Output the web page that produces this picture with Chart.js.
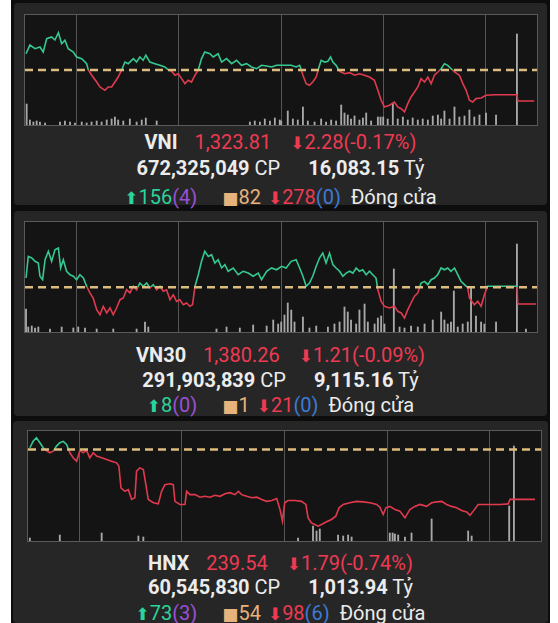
<!DOCTYPE html>
<html>
<head>
<meta charset="utf-8">
<script src="https://cdn.jsdelivr.net/npm/chart.js@4.4.1/dist/chart.umd.min.js"></script>
<style>
  html, body { margin: 0; padding: 0; background: #fff; }
  body { width: 558px; height: 623px; position: relative; overflow: hidden; font-family: Roboto, "Noto Sans", sans-serif; }
  #frame { position: absolute; left: 11px; top: 0; width: 539px; height: 623px; background: #0d0d0d; }
  .card { position: absolute; background: #262626; border-radius: 4px; }
  .plot { position: absolute; border: 1px solid #5a5a5a; background: #141414; }
  .plot canvas { display: block; }
  .row { position: absolute; left: 14px; width: 533px; text-align: center; font-size: 20px; line-height: 22px; white-space: nowrap; color: #ececec; }
  .b { font-weight: bold; }
  .r { color: #ee3a52; }
  .g { color: #2bd49a; }
  .p { color: #9b4fd8; }
  .bl { color: #3d7ad6; }
  .o { color: #e8b27c; }
  .ar { font-family: "DejaVu Sans"; font-size: 17px; }
  .sq { font-family: "DejaVu Sans"; font-size: 17px; }
</style>
</head>
<body>
<div id="frame"></div>
<div class="card" style="left:14px;top:3px;width:533px;height:202px"></div>
<div class="card" style="left:14px;top:211px;width:533px;height:205px"></div>
<div class="card" style="left:13px;top:421px;width:535px;height:202px"></div>

<div class="plot" style="left:24px;top:14px"><canvas id="vni" width="512" height="110"></canvas></div>
<div class="plot" style="left:24px;top:221px"><canvas id="vn30" width="512" height="110"></canvas></div>
<div class="plot" style="left:27px;top:430px"><canvas id="hnx" width="513" height="110"></canvas></div>

<div class="row" style="top:131px"><span class="b">VNI</span><span class="r" style="margin-left:17px">1,323.81</span><span class="r" style="margin-left:19px"><span class="ar">⬇</span>2.28(-0.17%)</span></div>
<div class="row" style="top:157px"><span class="b">672,325,049</span> CP<span class="b" style="margin-left:28px">16,083.15</span> Tỷ</div>
<div class="row" style="top:186px"><span class="g"><span class="ar">⬆</span>156</span><span class="p">(4)</span><span class="o sq" style="margin-left:25px">■</span><span class="o">82</span><span class="r" style="margin-left:7px"><span class="ar">⬇</span>278</span><span class="bl">(0)</span><span style="margin-left:10px">Đóng cửa</span></div>

<div class="row" style="top:344px"><span class="b">VN30</span><span class="r" style="margin-left:17px">1,380.26</span><span class="r" style="margin-left:19px"><span class="ar">⬇</span>1.21(-0.09%)</span></div>
<div class="row" style="top:369px"><span class="b">291,903,839</span> CP<span class="b" style="margin-left:28px">9,115.16</span> Tỷ</div>
<div class="row" style="top:394px"><span class="g"><span class="ar">⬆</span>8</span><span class="p">(0)</span><span class="o sq" style="margin-left:25px">■</span><span class="o">1</span><span class="r" style="margin-left:7px"><span class="ar">⬇</span>21</span><span class="bl">(0)</span><span style="margin-left:10px">Đóng cửa</span></div>

<div class="row" style="top:552px"><span class="b">HNX</span><span class="r" style="margin-left:17px">239.54</span><span class="r" style="margin-left:19px"><span class="ar">⬇</span>1.79(-0.74%)</span></div>
<div class="row" style="top:576px"><span class="b">60,545,830</span> CP<span class="b" style="margin-left:28px">1,013.94</span> Tỷ</div>
<div class="row" style="top:602px"><span class="g"><span class="ar">⬆</span>73</span><span class="p">(3)</span><span class="o sq" style="margin-left:25px">■</span><span class="o">54</span><span class="r" style="margin-left:7px"><span class="ar">⬇</span>98</span><span class="bl">(6)</span><span style="margin-left:10px">Đóng cửa</span></div>

<script>
// session time runs 0..250 (five equal blocks between grid lines)
const sessionStart = 0, sessionEnd = 250, gridStep = 50;

// VNI
const vniRef = 1326.09;
const vniRange = [1322.04, 1330.13];
const vniTime = [0.5, 2.4, 4.9, 7.3, 8.9, 10.6, 13.0, 14.6, 16.3, 17.9, 19.5, 21.1, 23.6, 25.2, 27.7, 30.1, 30.9, 32.5, 35.0, 36.6,
  39.0, 40.6, 42.3, 43.9, 45.5, 47.2, 48.8, 50.4, 52.9, 54.5, 56.1, 57.7, 59.0, 61.0, 63.4, 65.9, 68.3, 69.9, 71.6, 73.2,
  74.8, 76.5, 78.1, 79.7, 81.3, 83.0, 84.6, 86.2, 87.8, 90.3, 91.9, 94.3, 96.0, 98.4, 100.9, 103.3, 105.7, 108.2, 110.6, 113.1,
  115.5, 118.0, 120.4, 122.8, 126.7, 130.0, 132.4, 134.1, 135.7, 137.3, 138.9, 140.5, 142.2, 143.3, 144.6, 146.3, 147.9, 149.2, 150.3, 151.9,
  153.6, 156.0, 158.5, 160.9, 163.3, 165.8, 168.2, 170.6, 172.3, 173.9, 175.5, 178.0, 180.4, 182.0, 183.7, 185.3, 186.9, 188.5, 190.2, 191.8,
  193.4, 195.1, 196.7, 198.3, 199.9, 201.6, 203.2, 204.8, 206.4, 208.1, 209.7, 212.1, 213.8, 215.4, 217.0, 218.6, 220.2, 222.7, 225.1, 229.2,
  240.2, 240.6, 248.7];
const vniPrice = [1327.28, 1327.92, 1327.65, 1327.78, 1327.41, 1328.39, 1328.51, 1328.29, 1328.83, 1328.02, 1328.27, 1327.65, 1327.41, 1327.04, 1326.92, 1326.55, 1326.09, 1325.72, 1325.20, 1324.84,
  1324.59, 1324.84, 1324.84, 1325.20, 1325.57, 1326.09, 1326.67, 1326.55, 1326.92, 1326.67, 1327.04, 1326.80, 1327.17, 1326.67, 1326.55, 1326.43, 1326.31, 1326.09, 1325.99, 1325.70,
  1325.81, 1325.45, 1325.08, 1325.33, 1325.20, 1325.70, 1326.09, 1326.92, 1327.41, 1327.28, 1327.04, 1327.28, 1326.67, 1326.92, 1326.55, 1326.80, 1326.43, 1326.55, 1326.31, 1326.18,
  1326.43, 1326.38, 1326.31, 1326.43, 1326.43, 1326.43, 1326.31, 1326.43, 1325.70, 1325.08, 1324.96, 1325.20, 1325.57, 1326.18, 1326.80, 1326.67, 1326.73, 1327.04, 1326.67, 1326.43,
  1325.99, 1325.81, 1325.89, 1325.70, 1325.81, 1325.70, 1325.57, 1325.33, 1324.59, 1323.86, 1323.37, 1323.49, 1323.73, 1323.37, 1323.24, 1323.00, 1323.61, 1324.10, 1324.47, 1324.84,
  1325.45, 1325.20, 1325.57, 1325.08, 1325.70, 1325.94, 1326.18, 1326.55, 1326.43, 1326.18, 1325.94, 1325.70, 1325.08, 1324.59, 1323.86, 1323.73, 1323.98, 1324.03, 1324.23, 1324.27,
  1324.27, 1323.81, 1323.81];
const vniVolTime = [0.8, 2.4, 4.1, 5.7, 7.3, 9.8, 17.1, 19.5, 22.0, 24.4, 27.7, 30.1, 32.5, 35.0, 37.4, 39.9, 42.3, 43.9, 45.5, 48.0,
  51.2, 54.5, 57.0, 59.0, 64.3, 109.8, 112.2, 114.7, 117.1, 119.6, 122.0, 124.4, 125.1, 128.3, 130.8, 133.2, 135.7, 138.1, 141.4, 144.6,
  147.0, 149.5, 151.9, 154.4, 156.0, 157.6, 159.2, 160.9, 163.3, 165.0, 166.6, 169.0, 172.3, 173.6, 174.9, 177.1, 179.6, 182.0, 184.5, 186.9,
  189.3, 191.8, 194.2, 196.7, 199.1, 201.6, 203.2, 204.8, 207.3, 209.7, 212.1, 214.6, 217.0, 219.4, 221.9, 225.1, 230.0, 240.2];
const vniVol = [105, 25, 15, 20, 15, 10, 15, 20, 15, 10, 15, 10, 15, 20, 15, 25, 30, 40, 25, 20,
  30, 15, 25, 35, 20, 15, 20, 15, 30, 20, 35, 25, 20, 70, 30, 25, 90, 20, 15, 30,
  15, 25, 20, 100, 60, 50, 30, 45, 25, 35, 60, 20, 40, 40, 40, 30, 110, 30, 40, 25,
  35, 25, 30, 25, 45, 50, 30, 70, 30, 90, 40, 45, 75, 40, 50, 60, 50, 455];

// VN30
const vn30Ref = 1381.47;
const vn30Range = [1378.23, 1386.20];
const vn30Time = [0.5, 1.6, 3.3, 4.9, 6.5, 7.3, 8.6, 9.8, 11.4, 13.0, 14.6, 16.3, 17.4, 18.7, 20.3, 22.0, 23.6, 25.2, 26.8, 28.5,
  30.1, 31.7, 33.3, 35.0, 36.6, 38.2, 39.9, 41.5, 43.1, 44.7, 46.4, 48.0, 49.6, 51.2, 52.9, 54.5, 56.1, 57.7, 59.4, 61.0,
  62.6, 64.3, 65.9, 67.5, 69.1, 70.8, 72.4, 74.0, 75.6, 77.3, 78.9, 80.5, 81.8, 83.0, 84.6, 86.2, 87.8, 89.5, 91.1, 92.7,
  94.3, 96.0, 97.6, 99.2, 101.7, 104.1, 106.5, 109.0, 111.4, 113.9, 115.5, 118.0, 120.4, 122.8, 125.3, 127.5, 130.0, 132.4, 134.1, 135.7,
  137.3, 138.9, 140.5, 142.2, 143.8, 145.4, 147.0, 148.7, 150.3, 151.9, 153.6, 155.2, 156.8, 158.5, 160.1, 161.7, 163.3, 164.9, 166.6, 168.2,
  169.8, 171.4, 172.3, 173.9, 175.5, 178.0, 180.4, 182.0, 183.7, 185.3, 186.9, 188.5, 190.2, 191.8, 193.4, 195.1, 196.7, 198.3, 199.9, 201.5,
  203.2, 204.8, 206.4, 208.0, 209.7, 211.3, 212.9, 214.6, 216.2, 217.0, 219.4, 221.1, 222.7, 224.3, 225.9, 229.2, 240.2, 240.6, 249.5];
const vn30Price = [1382.14, 1383.71, 1383.59, 1383.35, 1383.23, 1382.27, 1382.02, 1383.47, 1384.08, 1383.35, 1384.19, 1384.32, 1382.87, 1383.47, 1382.63, 1382.38, 1382.27, 1382.02, 1382.38, 1382.14,
  1381.54, 1381.06, 1380.69, 1379.85, 1379.48, 1380.09, 1379.61, 1379.97, 1379.48, 1379.97, 1380.57, 1380.69, 1381.29, 1381.06, 1381.54, 1381.29, 1381.78, 1381.54, 1381.78, 1381.42,
  1381.66, 1381.29, 1381.54, 1381.18, 1381.29, 1380.57, 1380.93, 1380.45, 1380.57, 1380.21, 1380.33, 1380.09, 1380.21, 1381.54, 1382.38, 1383.35, 1384.08, 1383.71, 1383.83, 1383.23,
  1383.47, 1382.87, 1383.11, 1382.63, 1382.87, 1382.38, 1382.63, 1382.50, 1382.27, 1382.50, 1382.02, 1382.63, 1382.87, 1382.74, 1382.99, 1382.87, 1383.35, 1383.47, 1382.87, 1382.27,
  1381.54, 1381.78, 1382.27, 1382.99, 1383.59, 1383.95, 1383.23, 1383.95, 1383.11, 1382.87, 1382.63, 1382.27, 1382.50, 1382.63, 1382.50, 1382.87, 1382.63, 1382.74, 1382.38, 1382.63,
  1382.38, 1382.14, 1381.29, 1380.45, 1380.09, 1379.97, 1380.09, 1379.73, 1379.61, 1379.24, 1379.85, 1380.33, 1380.82, 1381.06, 1381.78, 1381.90, 1381.66, 1382.02, 1382.14, 1382.38,
  1382.87, 1382.74, 1382.87, 1382.63, 1382.87, 1382.38, 1381.90, 1381.66, 1381.42, 1380.69, 1380.21, 1380.45, 1380.09, 1380.93, 1381.54, 1381.54, 1381.54, 1380.26, 1380.26];
const vn30VolTime = [0.5, 1.6, 3.3, 4.9, 6.5, 12.2, 17.9, 23.6, 26.0, 29.3, 35.0, 43.1, 54.5, 58.6, 60.2, 93.5, 98.4, 104.9, 111.4, 118.0,
  121.2, 123.6, 125.1, 126.7, 128.3, 130.0, 131.6, 135.7, 138.9, 142.2, 147.9, 151.1, 153.6, 156.0, 157.6, 159.2, 161.7, 163.3, 165.8, 167.4,
  170.7, 172.3, 173.9, 175.5, 180.1, 182.9, 185.3, 188.5, 191.8, 195.1, 199.1, 203.2, 204.8, 206.4, 208.0, 209.4, 211.3, 213.7, 216.2, 217.8,
  220.2, 222.7, 224.3, 230.0, 240.2, 244.6];
const vn30Vol = [115, 25, 30, 20, 25, 15, 25, 20, 25, 20, 15, 15, 15, 50, 25, 15, 25, 20, 35, 30,
  60, 40, 50, 85, 145, 110, 50, 75, 20, 30, 25, 40, 50, 125, 100, 60, 40, 110, 140, 50,
  40, 70, 80, 40, 315, 25, 20, 30, 25, 40, 60, 100, 60, 40, 50, 205, 25, 40, 50, 220,
  80, 50, 40, 50, 440, 15];

// HNX
const hnxRef = 241.33;
const hnxRange = [238.05, 241.99];
const hnxTime = [0.9, 2.5, 4.1, 5.8, 7.4, 9.0, 10.6, 12.3, 13.9, 15.5, 17.2, 18.8, 20.4, 22.0, 23.7, 25.3, 26.9, 28.5, 30.1, 31.8,
  33.4, 35.9, 38.3, 40.7, 43.2, 44.3, 45.3, 47.2, 48.9, 50.5, 52.1, 52.9, 54.5, 56.2, 57.3, 58.6, 61.1, 63.5, 65.1, 66.7,
  69.2, 70.8, 71.6, 74.0, 76.5, 77.3, 78.9, 81.4, 83.8, 86.2, 88.7, 91.1, 93.6, 96.0, 98.4, 100.9, 102.5, 104.1, 106.6, 109.0,
  111.5, 113.9, 116.3, 118.8, 121.2, 122.8, 124.0, 125.1, 126.7, 130.0, 133.3, 135.4, 136.5, 138.1, 139.8, 141.4, 143.0, 145.5, 147.9, 150.0,
  151.6, 153.6, 156.8, 160.1, 163.3, 166.6, 169.9, 171.5, 173.1, 174.4, 176.3, 178.8, 181.2, 183.7, 186.1, 188.5, 191.0, 194.2, 196.7, 199.1,
  201.6, 204.0, 206.4, 208.9, 211.3, 213.8, 215.4, 217.0, 219.4, 223.5, 230.0, 234.0, 234.9, 239.8, 247.1];
const hnxPrice = [241.39, 241.62, 241.75, 241.57, 241.39, 241.29, 241.21, 241.27, 241.45, 241.57, 241.62, 241.51, 241.21, 241.03, 240.91, 241.30, 241.21, 241.30, 241.03, 241.21,
  241.09, 241.03, 240.97, 240.91, 240.85, 240.73, 239.95, 239.83, 239.89, 239.54, 239.60, 240.55, 240.67, 240.61, 240.13, 239.54, 239.42, 239.38, 239.83, 240.07,
  240.10, 240.07, 239.47, 239.36, 239.36, 239.83, 239.71, 239.71, 239.62, 239.65, 239.62, 239.69, 239.65, 239.74, 239.78, 239.71, 239.83, 239.71, 239.65, 239.60,
  239.62, 239.54, 239.47, 239.50, 239.57, 239.18, 238.76, 239.42, 239.50, 239.50, 239.47, 239.36, 238.88, 238.70, 238.64, 238.58, 238.64, 238.74, 238.82, 238.94,
  239.24, 239.36, 239.42, 239.47, 239.45, 239.42, 239.36, 239.26, 239.00, 239.24, 239.29, 239.18, 239.12, 238.88, 239.18, 239.29, 239.36, 239.29, 239.42, 239.45,
  239.47, 239.36, 239.29, 239.24, 239.14, 239.09, 238.97, 239.12, 239.36, 239.36, 239.36, 239.38, 239.54, 239.54, 239.54];
const hnxVolTime = [0.9, 15.5, 35.9, 53.8, 56.2, 131.6, 138.9, 140.6, 142.2, 151.1, 153.6, 156.0, 157.7, 176.3, 177.7, 178.8, 180.4, 183.7, 186.9, 196.7,
  214.5, 216.2, 234.5, 236.8];
const hnxVol = [15, 30, 40, 25, 20, 15, 75, 50, 60, 30, 25, 30, 20, 40, 40, 35, 30, 20, 40, 110,
  50, 25, 175, 475];

const volumeMax = 550;

const GREEN = '#35c98f';
const RED = '#e03a4e';
const REF_COLOR = '#dcbc7e';
const VOL_COLOR = '#a8a8a8';

function pairs(xs, ys) {
  return xs.map((x, i) => ({ x: x, y: ys[i] }));
}

// green above the reference price, red below
function splitColor(ref) {
  return function(context) {
    const chart = context.chart;
    const area = chart.chartArea;
    if (!area) return GREEN;
    let stop = (chart.scales.y.getPixelForValue(ref) - area.top) / (area.bottom - area.top);
    stop = Math.min(Math.max(stop, 0), 1);
    const g = chart.ctx.createLinearGradient(0, area.top, 0, area.bottom);
    g.addColorStop(0, GREEN);
    g.addColorStop(stop, GREEN);
    g.addColorStop(stop, RED);
    g.addColorStop(1, RED);
    return g;
  };
}

function drawIndex(id, time, price, volTime, vol, ref, range) {
  const ctx = document.getElementById(id).getContext('2d');
  return new Chart(ctx, {
    type: 'line',
    data: {
      datasets: [{
        type: 'line',
        data: [{ x: sessionStart, y: ref }, { x: sessionEnd, y: ref }],
        borderColor: REF_COLOR,
        borderDash: [8, 5],
        borderWidth: 2.5,
        pointRadius: 0,
        order: 0
      }, {
        type: 'line',
        data: pairs(time, price),
        borderColor: splitColor(ref),
        borderWidth: 1.6,
        pointRadius: 0,
        tension: 0,
        order: 1
      }, {
        type: 'bar',
        data: pairs(volTime, vol),
        yAxisID: 'v',
        backgroundColor: VOL_COLOR,
        barThickness: 1.2,
        order: 2
      }]
    },
    options: {
      responsive: false,
      animation: false,
      devicePixelRatio: 1,
      events: [],
      layout: { padding: 0 },
      plugins: { legend: { display: false }, tooltip: { enabled: false } },
      scales: {
        x: {
          type: 'linear',
          min: sessionStart,
          max: sessionEnd,
          offset: false,
          ticks: { display: false, stepSize: gridStep },
          grid: { color: '#555555', drawTicks: false, lineWidth: 1 },
          border: { display: false }
        },
        y: { display: false, min: range[0], max: range[1] },
        v: { display: false, min: 0, max: volumeMax }
      }
    }
  });
}

drawIndex('vni', vniTime, vniPrice, vniVolTime, vniVol, vniRef, vniRange);
drawIndex('vn30', vn30Time, vn30Price, vn30VolTime, vn30Vol, vn30Ref, vn30Range);
drawIndex('hnx', hnxTime, hnxPrice, hnxVolTime, hnxVol, hnxRef, hnxRange);
</script>
</body>
</html>
